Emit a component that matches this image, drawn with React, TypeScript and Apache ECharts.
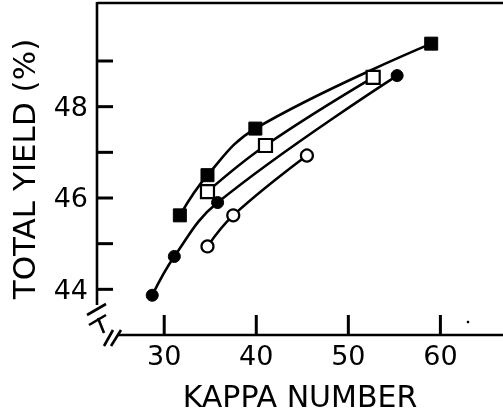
import React, { useEffect, useRef } from "react";
import * as echarts from "echarts";

// Kappa number (x) vs total yield % (y)
const filledSquareX = [31.7, 34.7, 39.9, 59.0];
const filledSquareY = [45.62, 46.5, 47.52, 49.38];
const openSquareX = [34.7, 41.0, 52.7];
const openSquareY = [46.14, 47.15, 48.64];
const filledCircleX = [28.7, 31.1, 35.8, 55.3];
const filledCircleY = [43.87, 44.72, 45.9, 48.68];
const openCircleX = [34.7, 37.5, 45.5];
const openCircleY = [44.94, 45.62, 46.93];

const xTicks = [30, 40, 50, 60];
const yTicks = [44, 45, 46, 47, 48, 49];
const yLabels = [44, 46, 48];

const X_MIN = 22.7;
const X_MAX = 66.8;
const Y_MIN = 43;
const Y_MAX = 50.27;

const zip = (xs: number[], ys: number[]) => xs.map((x, i) => [x, ys[i]]);

export default function App() {
  const ref = useRef<HTMLDivElement>(null);
  useEffect(() => {
    if (!ref.current) return;
    const chart = echarts.init(ref.current, undefined, { renderer: "svg" });
    const tickFont = "'DejaVu Sans', sans-serif";
    const titleFont = "'DejaVu Sans', sans-serif";
    const mk = (name: string, data: number[][], symbol: string, size: number, open: boolean) => ({
      name,
      type: "line",
      data,
      smooth: 0.4,
      symbol,
      symbolSize: size,
      showSymbol: true,
      lineStyle: { color: "#000", width: 2.6 },
      itemStyle: open
        ? { color: "#fff", borderColor: "#000", borderWidth: 2.2 }
        : { color: "#000", borderColor: "#000", borderWidth: 1 },
    });
    const ax = () => ({ stroke: "#000", lineWidth: 2.6 });
    const tickSeries = (axis: "x" | "y", values: number[]) => ({
      type: "custom",
      encode: { x: 0, y: 1 },
      data: values.map((v) => (axis === "y" ? [X_MIN, v] : [v, Y_MIN])),
      renderItem: (_p: any, api: any) => {
        const pt = api.coord([api.value(0), api.value(1)]);
        const shape =
          axis === "y"
            ? { x1: pt[0], y1: pt[1], x2: pt[0] + 16, y2: pt[1] }
            : { x1: pt[0], y1: pt[1], x2: pt[0], y2: pt[1] - 20 };
        return { type: "line", shape, style: { stroke: "#000", lineWidth: 3 } };
      },
    });
    chart.setOption({
      animation: false,
      grid: { left: 97, right: 0, top: 3, bottom: 84 },
      xAxis: {
        type: "value",
        min: X_MIN,
        max: X_MAX,
        axisLine: { show: false },
        splitLine: { show: false },
        axisTick: { show: false },
        axisLabel: {
          customValues: xTicks,
          margin: 7,
          fontSize: 27,
          fontFamily: tickFont,
          color: "#000",
        },
        name: "KAPPA NUMBER",
        nameLocation: "middle",
        nameGap: 46,
        nameTextStyle: { fontSize: 30, fontFamily: titleFont, color: "#000" },
      },
      yAxis: {
        type: "value",
        min: Y_MIN,
        max: Y_MAX,
        axisLine: { show: false },
        splitLine: { show: false },
        axisTick: { show: false },
        axisLabel: {
          customValues: yLabels,
          margin: 9,
          fontSize: 27,
          fontFamily: tickFont,
          color: "#000",
        },
        name: "TOTAL YIELD (%)",
        nameLocation: "middle",
        nameGap: 58,
        nameTextStyle: { fontSize: 31, fontFamily: titleFont, color: "#000" },
      },
      graphic: [
        { type: "line", shape: { x1: 97, y1: 3, x2: 503, y2: 3 }, style: ax() },
        { type: "line", shape: { x1: 97, y1: 2, x2: 97, y2: 305 }, style: ax() },
        { type: "line", shape: { x1: 87, y1: 315, x2: 106, y2: 304 }, style: ax() },
        { type: "line", shape: { x1: 89, y1: 325, x2: 106, y2: 315 }, style: ax() },
        { type: "line", shape: { x1: 98, y1: 318, x2: 104, y2: 333 }, style: ax() },
        { type: "line", shape: { x1: 104, y1: 346, x2: 113, y2: 330 }, style: ax() },
        { type: "line", shape: { x1: 111, y1: 346, x2: 121, y2: 330 }, style: ax() },
        { type: "line", shape: { x1: 117, y1: 335, x2: 503, y2: 335 }, style: ax() },
        { type: "circle", shape: { cx: 468, cy: 322, r: 1.3 }, style: { fill: "#000" } },
      ],
      series: [
        mk("filled squares", zip(filledSquareX, filledSquareY), "rect", 13, false),
        mk("open squares", zip(openSquareX, openSquareY), "rect", 13, true),
        mk("filled circles", zip(filledCircleX, filledCircleY), "circle", 12, false),
        mk("open circles", zip(openCircleX, openCircleY), "circle", 12, true),
        tickSeries("y", yTicks),
        tickSeries("x", xTicks),
      ],
    });
    return () => chart.dispose();
  }, []);
  return <div ref={ref} style={{ width: 503, height: 419, position: "fixed", left: 0, top: 0 }} />;
}
